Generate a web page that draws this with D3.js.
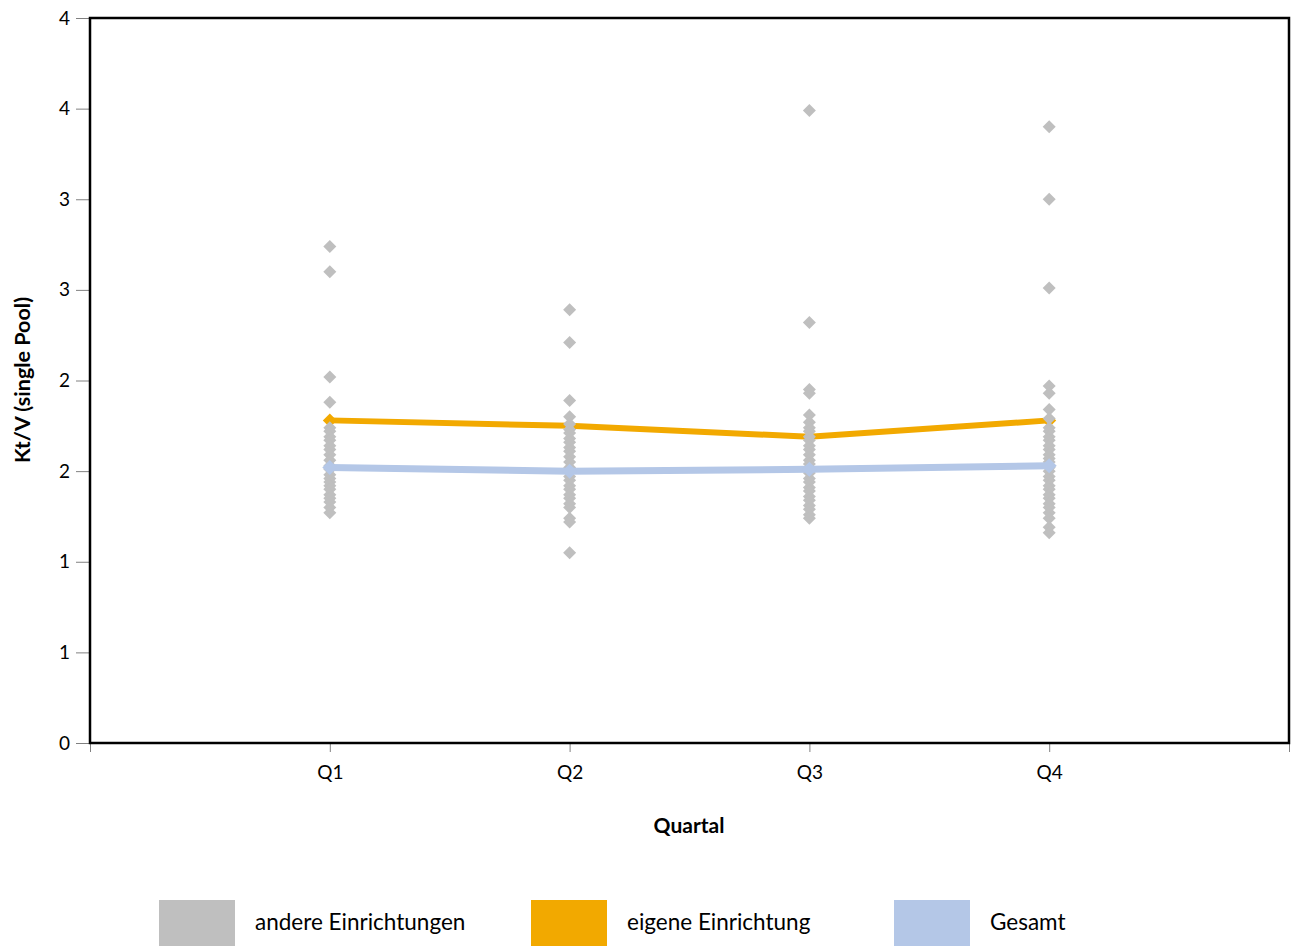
<!DOCTYPE html>
<html><head><meta charset="utf-8">
<script src="https://cdn.jsdelivr.net/npm/d3@7/dist/d3.min.js"></script>
<style>body{margin:0;background:#fff}svg{display:block}text{font-family:Lato,"Open Sans",sans-serif;fill:#000}</style>
</head><body>
<svg id="c" width="1295" height="947"></svg>
<script>
const quarters = ["Q1","Q2","Q3","Q4"];
const yTickValues = [0,0.5,1,1.5,2,2.5,3,3.5,4];
const yTickLabels = ["0","1","1","2","2","3","3","4","4"];
const otherQ1 = [2.74,2.60,2.02,1.88,1.74,1.72,1.69,1.67,1.64,1.62,1.59,1.56,1.53,1.51,1.48,1.46,1.44,1.42,1.40,1.37,1.35,1.33,1.30,1.27];
const otherQ2 = [2.39,2.21,1.89,1.80,1.76,1.73,1.71,1.68,1.66,1.63,1.61,1.58,1.55,1.52,1.50,1.47,1.45,1.42,1.40,1.37,1.35,1.32,1.30,1.24,1.22,1.05];
const otherQ3 = [3.49,2.32,1.95,1.93,1.81,1.77,1.74,1.72,1.69,1.67,1.64,1.62,1.59,1.56,1.54,1.51,1.49,1.46,1.44,1.41,1.39,1.36,1.34,1.31,1.29,1.26,1.24];
const otherQ4 = [3.40,3.00,2.51,1.97,1.93,1.84,1.79,1.74,1.72,1.69,1.67,1.64,1.62,1.59,1.57,1.55,1.52,1.50,1.47,1.45,1.42,1.40,1.37,1.35,1.32,1.30,1.27,1.24,1.19,1.16];
const eigene = [1.78,1.75,1.69,1.78];
const gesamt = [1.52,1.50,1.51,1.53];
const legendLabels = ["andere Einrichtungen","eigene Einrichtung","Gesamt"];
const colors = {andere:"#BFBFBF", eigene:"#F2A900", gesamt:"#B4C7E7"};

const svg = d3.select("#c");
const L=90,R=1289,T=18,B=743;
const x = d3.scaleLinear().domain([0,5]).range([L,R]);
const y = d3.scaleLinear().domain([0,4]).range([B,T]);

const yAxis = d3.axisLeft(y).tickValues(yTickValues).tickSize(14).tickPadding(6)
  .tickFormat((d,i)=>yTickLabels[i]);
const gy = svg.append("g").attr("transform",`translate(${L},0)`).call(yAxis);
gy.select(".domain").remove();
gy.selectAll("line").attr("stroke","#808080").attr("stroke-width",1);
gy.selectAll("text").style("font-size","19px").style("font-family","Lato, sans-serif");

const xAxis = d3.axisBottom(x).tickValues([0,1,2,3,4,5]).tickSize(9).tickPadding(14)
  .tickFormat(d=> (d>=1&&d<=4)?quarters[d-1]:"");
const gx = svg.append("g").attr("transform",`translate(0,${B})`).call(xAxis);
gx.select(".domain").remove();
gx.selectAll("line").attr("stroke","#808080").attr("stroke-width",1);
gx.selectAll("text").style("font-size","19px").style("font-family","Lato, sans-serif");

function diamondPath(s){ return `M0,${-s}L${s},0L0,${s}L${-s},0Z`; }

const line = d3.line().x((d,i)=>x(i+1)).y(d=>y(d));
svg.append("path").datum(eigene).attr("d",line).attr("fill","none")
  .attr("stroke",colors.eigene).attr("stroke-width",6).attr("stroke-linejoin","miter");
svg.selectAll(".om").data(eigene).join("path")
  .attr("d",diamondPath(7)).attr("transform",(d,i)=>`translate(${x(i+1)},${y(d)})`)
  .attr("fill",colors.eigene);

const others=[otherQ1,otherQ2,otherQ3,otherQ4];
others.forEach((arr,qi)=>{
  svg.append("g").selectAll("path").data(arr).join("path")
    .attr("d",diamondPath(6.5)).attr("transform",d=>`translate(${x(qi+1)},${y(d)})`)
    .attr("fill",colors.andere);
});

svg.append("path").datum(gesamt).attr("d",line).attr("fill","none")
  .attr("stroke",colors.gesamt).attr("stroke-width",7);
svg.selectAll(".bm").data(gesamt).join("path")
  .attr("d",diamondPath(7.5)).attr("transform",(d,i)=>`translate(${x(i+1)},${y(d)})`)
  .attr("fill",colors.gesamt);

svg.append("rect").attr("x",L).attr("y",T).attr("width",R-L).attr("height",B-T)
  .attr("fill","none").attr("stroke","#000").attr("stroke-width",2.5);

svg.append("text").attr("transform","translate(30,380) rotate(-90)").attr("text-anchor","middle")
  .style("font-size","21.5px").style("font-weight","bold").text("Kt/V (single Pool)");
svg.append("text").attr("x",689).attr("y",833).attr("text-anchor","middle")
  .style("font-size","21px").style("font-weight","bold").text("Quartal");

const legX=[159,531,894];
const legC=[colors.andere,colors.eigene,colors.gesamt];
legendLabels.forEach((t,i)=>{
  svg.append("rect").attr("x",legX[i]).attr("y",900).attr("width",76).attr("height",46).attr("fill",legC[i]);
  svg.append("text").attr("x",legX[i]+96).attr("y",930).style("font-size","22.5px").text(t);
});
</script>
</body></html>
